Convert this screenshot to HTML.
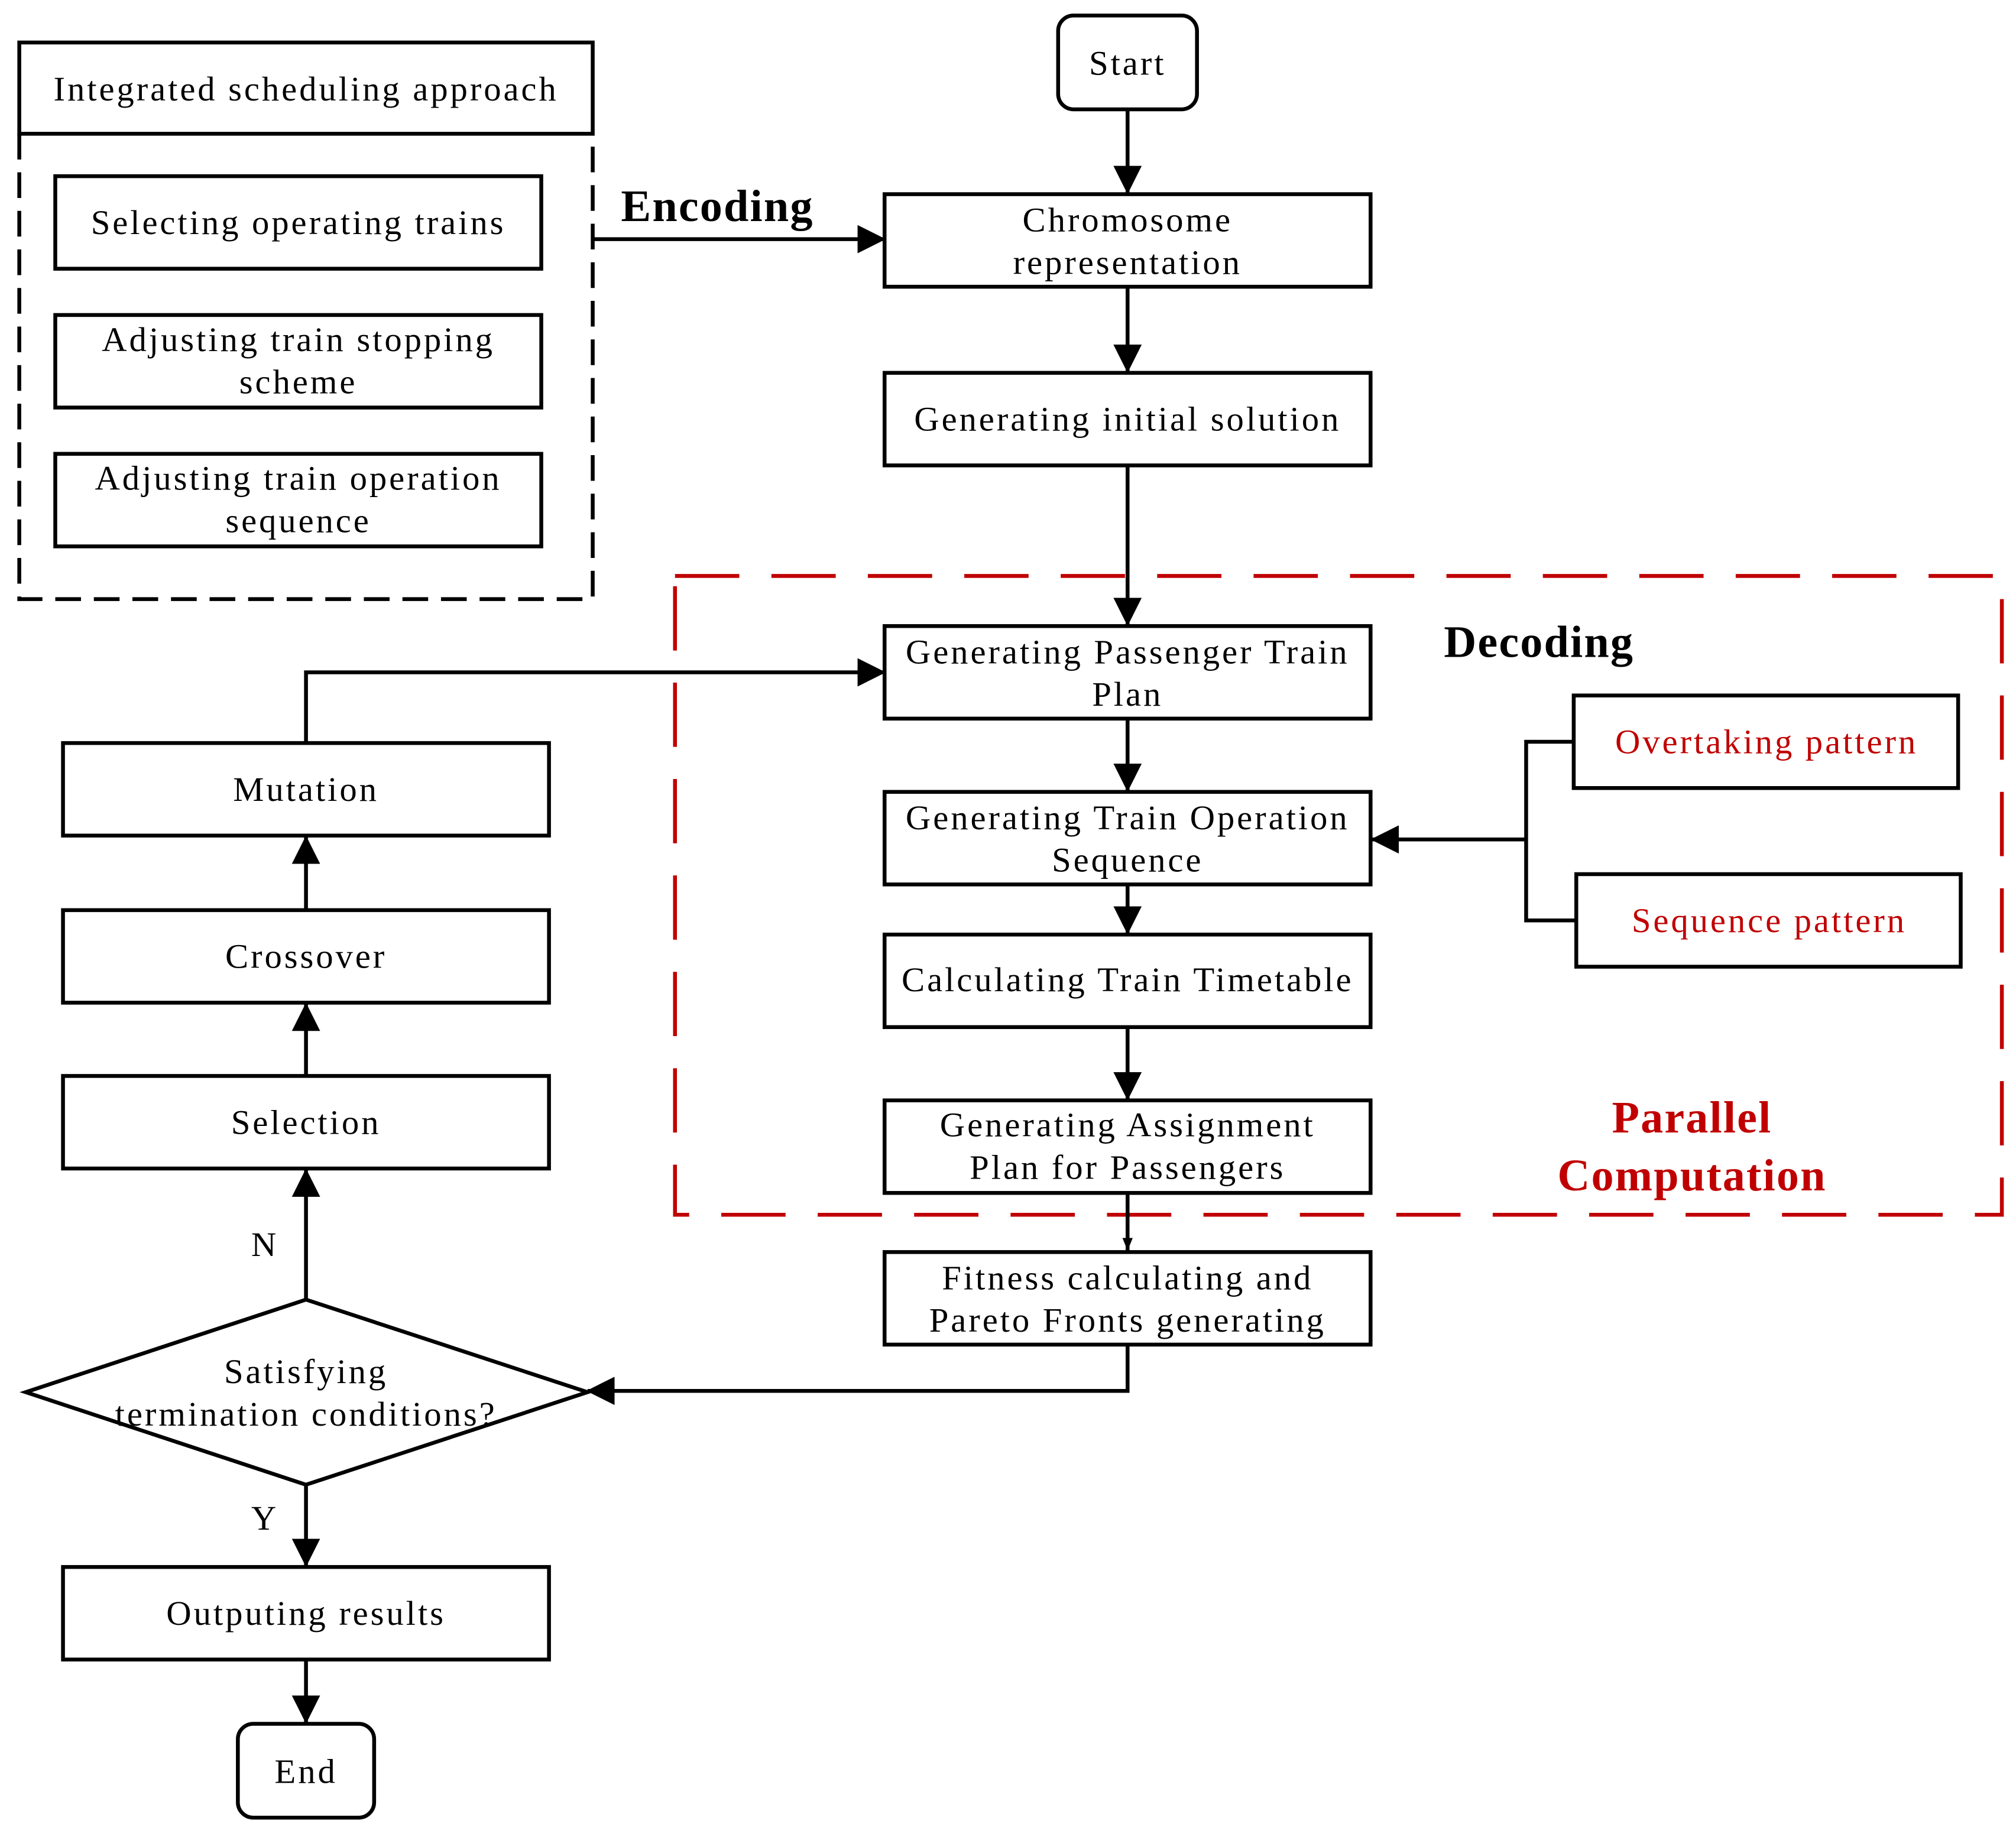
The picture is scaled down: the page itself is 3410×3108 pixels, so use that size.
<!DOCTYPE html>
<html><head><meta charset="utf-8"><style>html,body{margin:0;padding:0;background:#fff}svg{display:block}</style></head>
<body>
<svg width="3410" height="3108" viewBox="0 0 1568 1429" xmlns="http://www.w3.org/2000/svg" font-family="'Liberation Serif', serif" font-size="27" letter-spacing="1.8">
<defs>
<marker id="a" markerWidth="10" markerHeight="8" refX="10" refY="4" orient="auto" markerUnits="userSpaceOnUse" viewBox="0 0 10 8"><path d="M0,0 L10,4 L0,8 Z" fill="#000"/></marker>
<marker id="b" markerWidth="22" markerHeight="22" refX="21" refY="11" orient="auto" markerUnits="userSpaceOnUse"><path d="M0,0 L22,11 L0,22 Z" fill="#000"/></marker>
</defs>
<g fill="none" stroke="#000" stroke-width="3">
<rect x="823" y="12" width="108" height="73" rx="12"/>
<rect x="688" y="151" width="378" height="72"/>
<rect x="688" y="290" width="378" height="72"/>
<rect x="688" y="487" width="378" height="72"/>
<rect x="688" y="616" width="378" height="72"/>
<rect x="688" y="727" width="378" height="72"/>
<rect x="688" y="856" width="378" height="72"/>
<rect x="688" y="974" width="378" height="72"/>
<rect x="1224" y="541" width="299" height="72"/>
<rect x="1226" y="680" width="299" height="72"/>
<rect x="15" y="33" width="446" height="71"/>
<path d="M15,104 V466 H461 V104" stroke-dasharray="20,10"/>
<rect x="43" y="137" width="378" height="72"/>
<rect x="43" y="245" width="378" height="72"/>
<rect x="43" y="353" width="378" height="72"/>
<rect x="49" y="578" width="378" height="72"/>
<rect x="49" y="708" width="378" height="72"/>
<rect x="49" y="837" width="378" height="72"/>
<rect x="49" y="1219" width="378" height="72"/>
<rect x="185" y="1341" width="106" height="73" rx="12"/>
<path d="M238,1011 L457,1083 L238,1155 L20,1083 Z"/>
<rect x="525" y="448" width="1032" height="497" stroke="#C00000" stroke-dasharray="50,25"/>
<path d="M877,85 V150" marker-end="url(#b)"/>
<path d="M877,223 V289" marker-end="url(#b)"/>
<path d="M877,362 V486" marker-end="url(#b)"/>
<path d="M877,559 V615" marker-end="url(#b)"/>
<path d="M877,688 V726" marker-end="url(#b)"/>
<path d="M877,799 V855" marker-end="url(#b)"/>
<path d="M877,928 V973" marker-end="url(#a)"/>
<path d="M877,1046 V1082 H457" marker-end="url(#b)"/>
<path d="M1224,577 H1187 V716 H1226"/>
<path d="M1187,653 H1067" marker-end="url(#b)"/>
<path d="M461,186 H688" marker-end="url(#b)"/>
<path d="M238,578 V523 H688" marker-end="url(#b)"/>
<path d="M238,708 V651" marker-end="url(#b)"/>
<path d="M238,837 V781" marker-end="url(#b)"/>
<path d="M238,1011 V910" marker-end="url(#b)"/>
<path d="M238,1155 V1218" marker-end="url(#b)"/>
<path d="M238,1291 V1340" marker-end="url(#b)"/>
</g>
<g text-anchor="middle" fill="#000">
<text x="877" y="58">Start</text>
<text x="877" y="180">Chromosome</text>
<text x="877" y="213">representation</text>
<text x="877" y="335">Generating initial solution</text>
<text x="877" y="516">Generating Passenger Train</text>
<text x="877" y="549">Plan</text>
<text x="877" y="645">Generating Train Operation</text>
<text x="877" y="678">Sequence</text>
<text x="877" y="771">Calculating Train Timetable</text>
<text x="877" y="884">Generating Assignment</text>
<text x="877" y="917">Plan for Passengers</text>
<text x="877" y="1003">Fitness calculating and</text>
<text x="877" y="1036">Pareto Fronts generating</text>
<text x="238" y="78">Integrated scheduling approach</text>
<text x="232" y="182">Selecting operating trains</text>
<text x="232" y="273">Adjusting train stopping</text>
<text x="232" y="306">scheme</text>
<text x="232" y="381">Adjusting train operation</text>
<text x="232" y="414">sequence</text>
<text x="238" y="623">Mutation</text>
<text x="238" y="753">Crossover</text>
<text x="238" y="882">Selection</text>
<text x="238" y="1076">Satisfying</text>
<text x="238" y="1109">termination conditions?</text>
<text x="206" y="977">N</text>
<text x="206" y="1190">Y</text>
<text x="238" y="1264">Outputing results</text>
<text x="238" y="1387">End</text>
<text x="558" y="172" font-weight="bold" font-size="35" letter-spacing="1">Encoding</text>
<text x="1197" y="511" font-weight="bold" font-size="35" letter-spacing="1">Decoding</text>
<g fill="#C00000">
<text x="1374" y="586">Overtaking pattern</text>
<text x="1376" y="725">Sequence pattern</text>
<text x="1316" y="881" font-weight="bold" font-size="35" letter-spacing="1">Parallel</text>
<text x="1316" y="926" font-weight="bold" font-size="35" letter-spacing="1">Computation</text>
</g>
</g>
</svg>
</body></html>
